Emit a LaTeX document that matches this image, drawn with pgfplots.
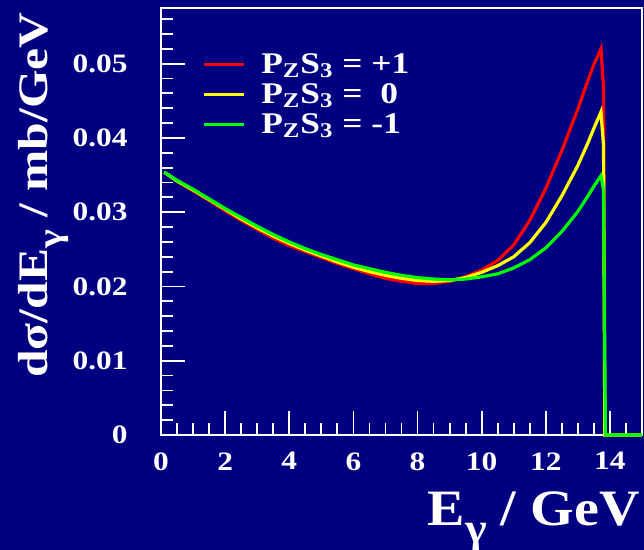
\documentclass[border=0pt]{standalone}
\usepackage{fontspec}
\setmainfont{Liberation Serif}[FakeStretch=1.18]
\newfontfamily\plainserif{Liberation Serif}[FakeStretch=1.1]
\usepackage{pgfplots}
\pgfplotsset{compat=1.18}
\definecolor{bgnavy}{RGB}{0,0,128}
\definecolor{rred}{RGB}{255,0,0}
\definecolor{ryellow}{RGB}{255,255,0}
\definecolor{rgreen}{RGB}{0,255,0}
\newcommand{\tickfont}{\bfseries\fontsize{13.3bp}{14bp}\selectfont}
\newcommand{\legfont}{\bfseries\fontsize{15bp}{16bp}\selectfont}
\newcommand{\lowsub}[2]{\raisebox{#1}{\fontsize{#2}{#2}\selectfont γ}}
\begin{document}
\begin{tikzpicture}
\path[use as bounding box, fill=bgnavy] (-80.5bp,-57.5bp) rectangle (241.5bp,217.5bp);
\begin{axis}[
scale only axis, width=240.5bp, height=213.5bp,
xmin=0, xmax=15, ymin=0, ymax=0.0575,
clip=false,
axis line style={white, line width=0.9bp},
every tick/.style={white, line width=0.9bp},
tick align=inside, xtick pos=left, ytick pos=left,
major tick length=12bp, minor tick length=6bp,
xtick={0,2,4,6,8,10,12,14},
minor xtick={0.5,1,...,14.5},
ytick={0,0.01,0.02,0.03,0.04,0.05},
minor ytick={0.002,0.004,...,0.0565},
scaled y ticks=false,
yticklabel style={/pgf/number format/fixed, /pgf/number format/precision=2},
/pgf/number format/assume math mode=true,
ticklabel style={font=\tickfont, text=white, inner sep=0pt},
xticklabel style={anchor=north, yshift=-8.5bp},
yticklabel style={anchor=east, xshift=-16.5bp},
xlabel={E\lowsub{-0.32em}{21bp}\ / GeV},
xlabel style={font=\plainserif\bfseries\fontsize{25.5bp}{26bp}\selectfont, text=white, inner sep=0pt,
  at={(rel axis cs:0.9958,-0.2131)}, anchor=base east},
ylabel style={font=\bfseries\fontsize{21bp}{22bp}\selectfont, text=white, inner sep=0pt,
  at={(rel axis cs:-0.237,0.99)}, anchor=base east},
ylabel={dσ/dE\lowsub{-0.35em}{17bp}\ / mb/GeV},
legend style={draw=none, fill=none, text=white, font=\legfont, inner sep=0pt,
  at={(rel axis cs:0.0846,0.9033)}, anchor=north west, row sep=0pt,
  column sep=8bp,
  nodes={inner sep=0pt, text height=11.85bp, text depth=3.15bp}},
legend cell align=left,
legend image code/.code={\draw[#1] (0bp,0bp) -- (20bp,0bp);},
every axis plot/.append style={line width=1.6bp},
]
\addplot[rred] coordinates {(0.1,0.0354)(0.5,0.0342)(1,0.0329)(1.5,0.0316)(2,0.0302)(2.5,0.0289)(3,0.0277)(3.5,0.0265)(4,0.0255)(4.5,0.0247)(5,0.0239)(5.5,0.0231)(6,0.0224)(6.5,0.0217)(7,0.0211)(7.5,0.0207)(8,0.0204)(8.5,0.0204)(9,0.0207)(9.5,0.0213)(10,0.0222)(10.5,0.0235)(11,0.0256)(11.5,0.0289)(12,0.0332)(12.5,0.0383)(13,0.0439)(13.3,0.0476)(13.5,0.0499)(13.72,0.0520)(13.80,0.0468)(13.84,0)(15,0)};
\addplot[ryellow] coordinates {(0.1,0.0354)(0.5,0.0342)(1,0.0330)(1.5,0.0317)(2,0.0304)(2.5,0.0291)(3,0.0279)(3.5,0.0268)(4,0.0258)(4.5,0.0249)(5,0.0241)(5.5,0.0233)(6,0.0226)(6.5,0.0220)(7,0.0215)(7.5,0.0211)(8,0.0208)(8.5,0.0207)(9,0.0208)(9.5,0.0212)(10,0.0219)(10.5,0.0228)(11,0.0240)(11.5,0.0259)(12,0.0286)(12.5,0.0322)(13,0.0363)(13.3,0.0392)(13.5,0.0413)(13.72,0.0435)(13.80,0.0390)(13.84,0)(15,0)};
\addplot[rgreen] coordinates {(0.1,0.0354)(0.5,0.0343)(1,0.0331)(1.5,0.0318)(2,0.0305)(2.5,0.0293)(3,0.0281)(3.5,0.0270)(4,0.0260)(4.5,0.0251)(5,0.0243)(5.5,0.0236)(6,0.0229)(6.5,0.0224)(7,0.0219)(7.5,0.0215)(8,0.0212)(8.5,0.0210)(9,0.0209)(9.5,0.0210)(10,0.0213)(10.5,0.0217)(11,0.0225)(11.5,0.0236)(12,0.0252)(12.5,0.0274)(13,0.0301)(13.3,0.0321)(13.5,0.0335)(13.72,0.0349)(13.80,0.0330)(13.86,0)(15,0)};
\legend{P\textsubscript{Z}S\textsubscript{3} = +1, P\textsubscript{Z}S\textsubscript{3} = \hspace{0.3em}0, P\textsubscript{Z}S\textsubscript{3} = -1}
\end{axis}
\end{tikzpicture}
\end{document}
